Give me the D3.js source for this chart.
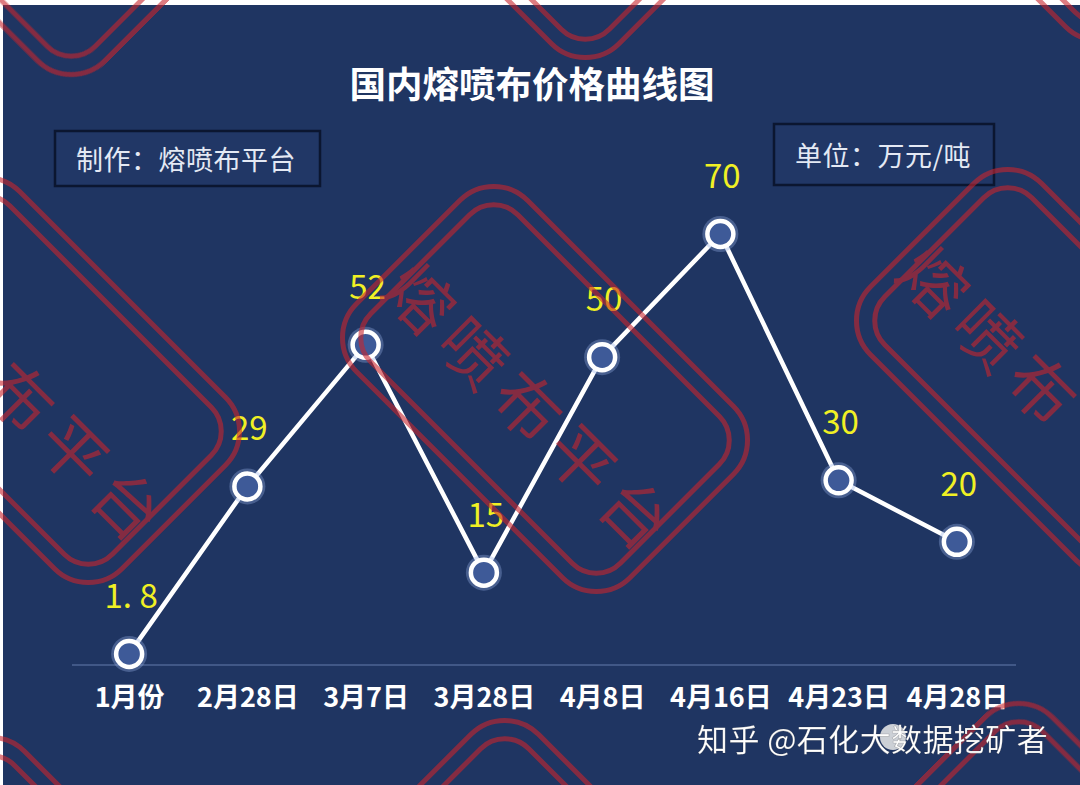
<!DOCTYPE html>
<html><head><meta charset="utf-8">
<script src="https://cdn.jsdelivr.net/npm/d3@7"></script>
<style>
html,body{margin:0;padding:0;background:#fff;}
svg{display:block;}
</style></head>
<body>
<svg id="chart" width="1080" height="785"></svg>
<script>
const categories = ["1月份","2月28日","3月7日","3月28日","4月8日","4月16日","4月23日","4月28日"];
const prices = [1.8, 29, 52, 15, 50, 70, 30, 20];
const priceLabels = ["1. 8","29","52","15","50","70","30","20"];
const titleText = "国内熔喷布价格曲线图";
const makerText = "制作：熔喷布平台";
const unitText = "单位：万元/吨";
const stampChars = ["熔","喷","布","平","台"];
const creditText = "知乎 @石化大数据挖矿者";

const data = categories.map((c,i)=>({cat:c, v:prices[i], label:priceLabels[i]}));
const W = 1080, H = 785;
const svg = d3.select("#chart");
const FONT = "'Noto Sans CJK SC','Noto Sans',sans-serif";

// background
svg.append("rect").attr("width",W).attr("height",H).attr("fill","#ffffff");
svg.append("rect").attr("x",3).attr("y",5).attr("width",W-3).attr("height",H-5).attr("fill","#1f3562");

const x = d3.scalePoint().domain(categories).range([70,1016]).padding(0.5);
const y = d3.scaleLinear().domain([0,70]).range([665,234]);

// title
svg.append("text").attr("x",532).attr("y",82).attr("text-anchor","middle")
  .attr("dominant-baseline","central").attr("font-family",FONT).attr("font-weight",700)
  .attr("font-size",36.5).attr("fill","#ffffff").text(titleText);

// boxes
function box(x0,y0,w,h,txt,tx,ty){
  svg.append("rect").attr("x",x0).attr("y",y0).attr("width",w).attr("height",h)
    .attr("fill","#213766").attr("stroke","#0b1630").attr("stroke-width",2.5);
  svg.append("text").attr("x",tx).attr("y",ty).attr("font-family",FONT)
    .attr("font-size",27).attr("letter-spacing",0.5).attr("fill","#e4e9f4").text(txt);
}
box(55,131,265,55,makerText,76,170);
box(774,124,220,61,unitText,795,166);

// axis
const xAxis = d3.axisBottom(x).tickSize(0).tickPadding(22);
const ax = svg.append("g").attr("transform","translate(0,665)").call(xAxis);
ax.select(".domain").attr("d","M72,0H1016").attr("stroke","#4e6495").attr("stroke-width",1.5);
ax.selectAll("text").attr("font-family",FONT).attr("font-weight",700).attr("font-size",27)
  .attr("fill","#ffffff").attr("dy","0.75em");

// line
const line = d3.line().x(d=>x(d.cat)).y(d=>y(d.v));
svg.append("path").datum(data).attr("d",line).attr("fill","none")
  .attr("stroke","#ffffff").attr("stroke-width",4.5).attr("stroke-linejoin","round");

// markers
const mk = svg.append("g").selectAll("g").data(data).join("g")
  .attr("transform",d=>`translate(${x(d.cat)},${y(d.v)})`);
mk.append("circle").attr("r",18).attr("fill","rgba(150,175,230,0.35)");
mk.append("circle").attr("r",13).attr("fill","#3e5a98").attr("stroke","#ffffff").attr("stroke-width",4.5);

// value labels
svg.append("g").selectAll("text").data(data).join("text")
  .attr("x",d=>x(d.cat)+2).attr("y",d=>y(d.v)-46).attr("text-anchor","middle")
  .attr("font-family",FONT).attr("font-size",33).attr("fill","#f0f024").text(d=>d.label);

// watermark stamps
const RED = "rgb(200,38,45)";
const wm = svg.append("g").attr("opacity",0.6);
const base = [545,389], a = [514,-17], b = [11,534];
const s2 = Math.SQRT1_2;
for (let j=-1;j<=1;j++){
  for (let i=-1;i<=1;i++){
    let cx = base[0]+i*a[0]+j*b[0], cy = base[1]+i*a[1]+j*b[1];
    if (i===-1 && j===0){ cx += 6; cy -= 26; }
    const g = wm.append("g").attr("transform",`translate(${cx},${cy}) rotate(45)`);
    g.append("rect").attr("x",-193.5).attr("y",-121).attr("width",387).attr("height",242).attr("rx",48)
      .attr("fill","none").attr("stroke",RED).attr("stroke-width",5);
    g.append("rect").attr("x",-176.5).attr("y",-104).attr("width",353).attr("height",208).attr("rx",34)
      .attr("fill","none").attr("stroke",RED).attr("stroke-width",5);
    stampChars.forEach((ch,k)=>{
      const u = (k-2)*76, v = 20;
      const px = cx + (u - v)*s2, py = cy + (u + v)*s2;
      if (px < 0 || px > W || py < 8 || py > H) return;
      wm.append("text").attr("transform",`translate(${px},${py}) rotate(45)`)
        .attr("text-anchor","middle").attr("dominant-baseline","central")
        .attr("font-family",FONT).attr("font-size",66).attr("fill",RED).text(ch);
    });
  }
}

// credit overlay
const cr = svg.append("g");
cr.append("circle").attr("cx",893).attr("cy",737).attr("r",13).attr("fill","rgba(235,235,235,0.85)");
cr.append("text").attr("x",697).attr("y",751).attr("font-family",FONT).attr("font-size",31)
  .attr("letter-spacing",0.4)
  .attr("fill","#ffffff").attr("stroke","rgba(0,0,0,0.25)").attr("stroke-width",0.6).text(creditText);
</script>
</body></html>
